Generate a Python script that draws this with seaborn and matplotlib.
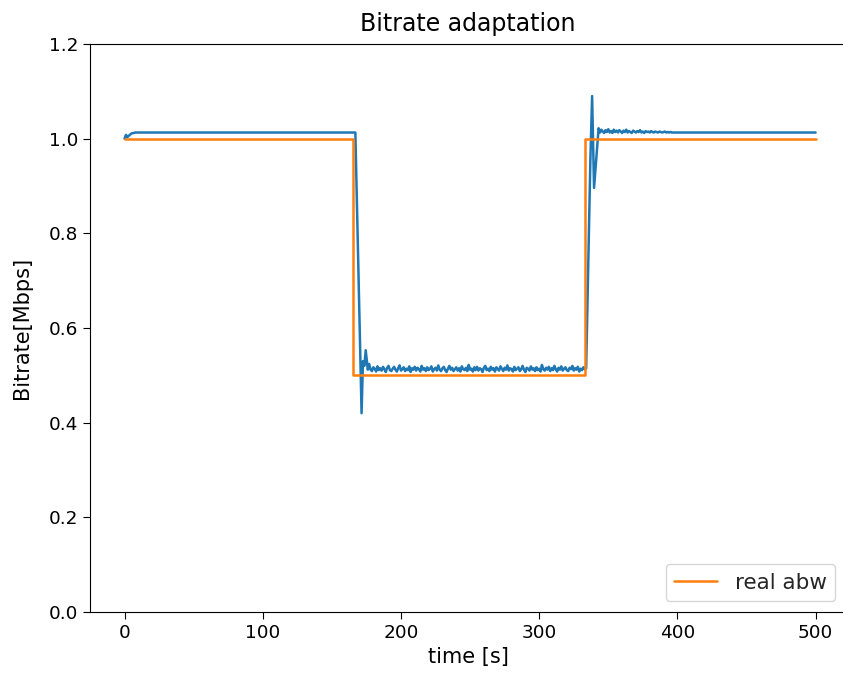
import matplotlib
matplotlib.use("Agg")
import pandas as pd
import seaborn as sns
import matplotlib.pyplot as plt

# measured bitrate (blue), in pieces
start_time = [0, 1, 2, 3, 5, 8, 167, 171.5, 172.5, 173.5, 174.5, 176]
start_mbps = [1.000, 1.008, 1.003, 1.006, 1.011, 1.013, 1.013, 0.420, 0.530, 0.520, 0.553, 0.512]

low_time = list(range(177, 335))  # one sample per second
low_mbps = [0.524, 0.512, 0.509, 0.517, 0.514, 0.508, 0.519, 0.511, 0.515, 0.510, 0.518, 0.513, 0.507,
            0.516, 0.520, 0.511, 0.509, 0.514, 0.518, 0.512, 0.508, 0.515, 0.521, 0.510, 0.513, 0.517,
            0.509, 0.514, 0.511, 0.519, 0.507, 0.515, 0.512, 0.518, 0.510, 0.516, 0.513, 0.508, 0.520,
            0.512, 0.515, 0.509, 0.517, 0.511, 0.514, 0.519, 0.508, 0.513, 0.516, 0.510, 0.521, 0.512,
            0.509, 0.515, 0.518, 0.511, 0.507, 0.514, 0.520, 0.512, 0.516, 0.509, 0.513, 0.517, 0.510,
            0.515, 0.508, 0.519, 0.513, 0.511, 0.516, 0.509, 0.522, 0.512, 0.514, 0.508, 0.517, 0.511,
            0.518, 0.510, 0.515, 0.513, 0.507, 0.516, 0.520, 0.511, 0.514, 0.509, 0.518, 0.512, 0.515,
            0.508, 0.517, 0.513, 0.510, 0.519, 0.514, 0.509, 0.516, 0.512, 0.521, 0.510, 0.515, 0.513,
            0.508, 0.518, 0.511, 0.514, 0.517, 0.509, 0.513, 0.520, 0.512, 0.507, 0.516, 0.514, 0.510,
            0.519, 0.512, 0.515, 0.509, 0.517, 0.511, 0.514, 0.508, 0.522, 0.513, 0.510, 0.516, 0.512,
            0.518, 0.509, 0.515, 0.511, 0.520, 0.513, 0.508, 0.516, 0.512, 0.519, 0.510, 0.514, 0.517,
            0.511, 0.509, 0.516, 0.513, 0.520, 0.510, 0.515, 0.512, 0.518, 0.508, 0.514, 0.511, 0.517,
            0.513, 0.515]

jump_time = [337, 338.3, 339.7]
jump_mbps = [0.950, 1.090, 0.896]

high_time = list(range(343, 399)) + [500]
high_mbps = [1.022, 1.013, 1.019, 1.015, 1.012, 1.018, 1.014, 1.020, 1.013, 1.016, 1.012, 1.019, 1.014, 1.017,
             1.013, 1.018, 1.015, 1.012, 1.017, 1.014, 1.019, 1.013, 1.016, 1.014, 1.012, 1.017, 1.015, 1.013,
             1.016, 1.014, 1.018, 1.013, 1.015, 1.012, 1.016, 1.014, 1.015, 1.013, 1.016, 1.014, 1.013, 1.015,
             1.014, 1.013, 1.015, 1.014, 1.013, 1.014, 1.015, 1.013, 1.014, 1.013, 1.014, 1.013, 1.013, 1.013,
             1.013]

# real available bandwidth (orange)
abw_time = [0, 165.5, 165.5, 333, 333, 500]
abw_mbps = [1.0, 1.0, 0.5, 0.5, 1.0, 1.0]

df_rate = pd.DataFrame({'time': start_time + low_time + jump_time + high_time,
                        'rate': start_mbps + low_mbps + jump_mbps + high_mbps})
df_abw = pd.DataFrame({'time': abw_time, 'rate': abw_mbps})

sns.set_style("ticks")
plt.rcParams['font.family'] = ['DejaVu Sans']
pal = sns.color_palette('tab10')

fig = plt.figure(figsize=(8.43, 6.81), dpi=100)
ax = fig.add_axes([90 / 843, 1 - 612 / 681, 756 / 843, 568 / 681])

sns.lineplot(data=df_rate, x='time', y='rate', ax=ax, color=pal[0], linewidth=1.8,
             sort=False, estimator=None)
sns.lineplot(data=df_abw, x='time', y='rate', ax=ax, color=pal[1], linewidth=1.8,
             sort=False, estimator=None, label='real abw')

ax.set_xlim(-25, 522)
ax.set_ylim(0, 1.2)
ax.set_xticks([0, 100, 200, 300, 400, 500])
ax.set_yticks([0.0, 0.2, 0.4, 0.6, 0.8, 1.0, 1.2])
ax.tick_params(labelsize=13.3, colors='black', direction='out', length=5)
for s in ax.spines.values():
    s.set_color('black')
ax.set_title('Bitrate adaptation', fontsize=17, pad=9, color='black')
ax.set_xlabel('time [s]', fontsize=15, color='black')
ax.set_ylabel('Bitrate[Mbps]', fontsize=15, labelpad=12, color='black')
ax.legend(loc='lower right', fontsize=15.5)

plt.savefig('out.png', dpi=100)
plt.close()
